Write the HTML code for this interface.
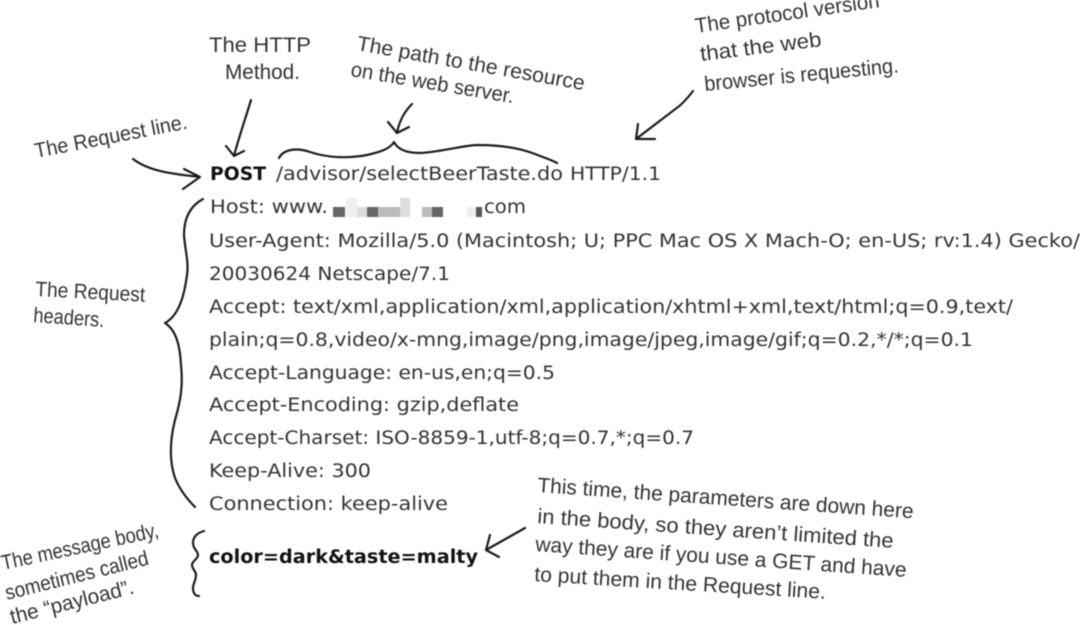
<!DOCTYPE html>
<html lang="en"><head><meta charset="utf-8"><title>HTTP POST request</title>
<style>
html,body{margin:0;padding:0;background:#fff;width:1080px;height:625px;overflow:hidden}
svg{display:block;filter:blur(.4px)}
.m{font:18.5px "DejaVu Sans","Liberation Sans",sans-serif;fill:#333}
.b{font-weight:bold;fill:#111}
.h{font:21px "Liberation Sans",sans-serif;fill:#333}
.l{fill:none;stroke:#1c1c1c;stroke-width:2.2;stroke-linecap:round;stroke-linejoin:round}
</style></head><body>
<svg width="1080" height="625" viewBox="0 0 1080 625" xmlns="http://www.w3.org/2000/svg">
<!-- code text -->
<text class="m b" x="210" y="180" textLength="56" lengthAdjust="spacingAndGlyphs">POST</text>
<text class="m" x="276" y="180" textLength="287" lengthAdjust="spacingAndGlyphs">/advisor/selectBeerTaste.do</text>
<text class="m" x="570" y="180" textLength="91" lengthAdjust="spacingAndGlyphs">HTTP/1.1</text>
<text class="m" x="210" y="213" textLength="118" lengthAdjust="spacingAndGlyphs">Host: www.</text>
<text class="m" x="484" y="213" textLength="42" lengthAdjust="spacingAndGlyphs">com</text>
<g>
<rect x="333" y="207" width="12" height="10" fill="#666"/>
<rect x="346" y="198" width="11" height="19" fill="#f0f0f0"/>
<rect x="357" y="207" width="10" height="10" fill="#ddd"/>
<rect x="367" y="207" width="11" height="10" fill="#666"/>
<rect x="378" y="207" width="22" height="10" fill="#bbb"/>
<rect x="400" y="198" width="10" height="19" fill="#ddd"/>
<rect x="422" y="207" width="10" height="10" fill="#bbb"/>
<rect x="432" y="207" width="11" height="10" fill="#666"/>
<rect x="467" y="207" width="9" height="10" fill="#eee"/>
<rect x="476" y="207" width="6" height="10" fill="#555"/>
</g>
<text class="m" x="209" y="247" textLength="871" lengthAdjust="spacingAndGlyphs">User-Agent: Mozilla/5.0 (Macintosh; U; PPC Mac OS X Mach-O; en-US; rv:1.4) Gecko/</text>
<text class="m" x="209" y="280" textLength="241" lengthAdjust="spacingAndGlyphs">20030624 Netscape/7.1</text>
<text class="m" x="209" y="313" textLength="804" lengthAdjust="spacingAndGlyphs">Accept: text/xml,application/xml,application/xhtml+xml,text/html;q=0.9,text/</text>
<text class="m" x="209" y="346" textLength="764" lengthAdjust="spacingAndGlyphs">plain;q=0.8,video/x-mng,image/png,image/jpeg,image/gif;q=0.2,*/*;q=0.1</text>
<text class="m" x="209" y="379" textLength="346" lengthAdjust="spacingAndGlyphs">Accept-Language: en-us,en;q=0.5</text>
<text class="m" x="209" y="411" textLength="310" lengthAdjust="spacingAndGlyphs">Accept-Encoding: gzip,deflate</text>
<text class="m" x="209" y="444" textLength="485" lengthAdjust="spacingAndGlyphs">Accept-Charset: ISO-8859-1,utf-8;q=0.7,*;q=0.7</text>
<text class="m" x="209" y="477" textLength="162" lengthAdjust="spacingAndGlyphs">Keep-Alive: 300</text>
<text class="m" x="209" y="510" textLength="239" lengthAdjust="spacingAndGlyphs">Connection: keep-alive</text>
<text class="m b" x="209" y="563" textLength="269" lengthAdjust="spacingAndGlyphs">color=dark&amp;taste=malty</text>
<!-- hand notes -->
<text class="h" x="209" y="52" textLength="102" lengthAdjust="spacingAndGlyphs">The HTTP</text>
<text class="h" x="225" y="79" textLength="75" lengthAdjust="spacingAndGlyphs">Method.</text>
<text class="h" transform="translate(356,50) rotate(10)" textLength="231" lengthAdjust="spacingAndGlyphs">The path to the resource</text>
<text class="h" transform="translate(350,76) rotate(9.5)" textLength="165" lengthAdjust="spacingAndGlyphs">on the web server.</text>
<text class="h" transform="translate(696,33) rotate(-8)" textLength="186" lengthAdjust="spacingAndGlyphs">The protocol version</text>
<text class="h" transform="translate(701,61) rotate(-7)" textLength="122" lengthAdjust="spacingAndGlyphs">that the web</text>
<text class="h" transform="translate(705,91) rotate(-5.5)" textLength="195" lengthAdjust="spacingAndGlyphs">browser is requesting.</text>
<text class="h" transform="translate(36,158) rotate(-11)" textLength="155" lengthAdjust="spacingAndGlyphs">The Request line.</text>
<text class="h" transform="translate(35,296) rotate(3)" textLength="110" lengthAdjust="spacingAndGlyphs">The Request</text>
<text class="h" transform="translate(33,322) rotate(4)" textLength="71" lengthAdjust="spacingAndGlyphs">headers.</text>
<text class="h" transform="translate(3,570) rotate(-12)" textLength="160" lengthAdjust="spacingAndGlyphs">The message body,</text>
<text class="h" transform="translate(7,600) rotate(-14)" textLength="147" lengthAdjust="spacingAndGlyphs">sometimes called</text>
<text class="h" transform="translate(12,624) rotate(-14)" textLength="127" lengthAdjust="spacingAndGlyphs">the “payload”.</text>
<text class="h" transform="translate(537,492) rotate(4)" textLength="377" lengthAdjust="spacingAndGlyphs">This time, the parameters are down here</text>
<text class="h" transform="translate(537,523) rotate(4)" textLength="357" lengthAdjust="spacingAndGlyphs">in the body, so they aren’t limited the</text>
<text class="h" transform="translate(535,551) rotate(4)" textLength="372" lengthAdjust="spacingAndGlyphs">way they are if you use a GET and have</text>
<text class="h" transform="translate(534,581) rotate(3.5)" textLength="292" lengthAdjust="spacingAndGlyphs">to put them in the Request line.</text>
<!-- connectors -->
<path class="l" d="M251,100 C245,120 238,140 234,156 M226,146 L234,156 L244,151"/>
<path class="l" d="M412,104 C404,112 399,122 397,133 M388,122 L397,133 L409,127"/>
<path class="l" d="M279,158 C283,150 295,147 310,152 C325,157 345,159 367,155 C380,152 390,149 394,142 C398,150 408,153 420,153 C440,152 460,146 477,145 C500,145 520,148 535,154 C545,158 552,160 557,163"/>
<path class="l" d="M693,91 C686,100 682,104 678,107 L636,139 M638,124 L636,139 L655,139"/>
<path class="l" d="M133,159 C150,172 175,174 200,177 M184,169 L200,177 L183,189"/>
<path class="l" d="M203,199 C190,206 184,218 184,235 C185,250 189,262 187,275 C184,298 178,316 165,323 C176,330 180,345 181,365 C183,385 181,400 175,420 C170,440 169,460 175,478 C180,490 188,500 195,507"/>
<path class="l" d="M204,531 C197,533 193,537 193,543 C193,549 198,551 198,555 C198,559 192,561 192,565 C192,569 196,571 196,575 C196,580 193,584 193,588 C193,593 195,596 199,596"/>
<path class="l" d="M525,528 L486,550 M490,535 L486,550 L499,557"/>
</svg>
</body></html>
